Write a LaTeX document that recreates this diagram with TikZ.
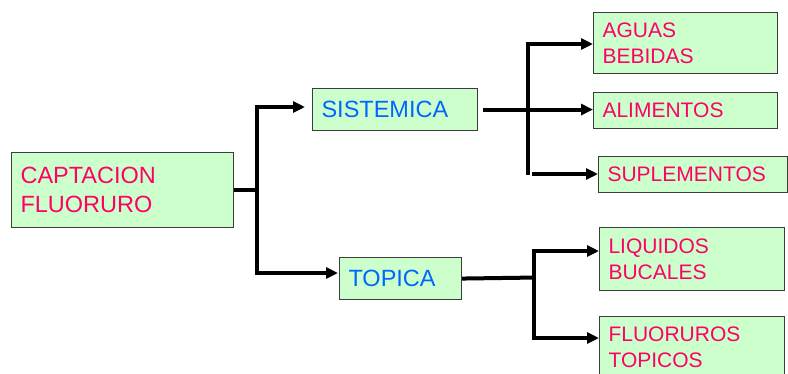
\documentclass[tikz,border=0pt]{standalone}
\usepackage{fontspec}
\setmainfont{Liberation Sans}
\usetikzlibrary{arrows.meta}
\definecolor{boxgreen}{HTML}{CCFFCC}
\definecolor{pinktext}{HTML}{FF0066}
\definecolor{bluetext}{HTML}{0066FF}
\definecolor{edgegray}{HTML}{3C3C3C}
\tikzset{
  box/.style={draw=edgegray, fill=boxgreen, line width=1.1pt, anchor=north west,
    inner xsep=9pt, inner ysep=0pt, align=left},
  bigtext/.style={font=\fontsize{23.5}{29}\selectfont},
  smalltext/.style={font=\fontsize{21}{26}\selectfont, text=pinktext},
  wire/.style={line width=4pt},
  arw/.style={line width=4pt, -{Triangle[length=12pt,width=11pt]}},
}
\begin{document}
\begin{tikzpicture}[x=1pt,y=-1pt]
\useasboundingbox (0,0) rectangle (788,373);
\clip (0,0) rectangle (788,373);

% boxes
\node[box, bigtext, text=pinktext, text width=204pt, minimum height=75pt] (cap) at (11,152) {CAPTACION\\FLUORURO};
\node[box, bigtext, text=bluetext, text width=147pt, minimum height=42pt] (sis) at (312,88) {SISTEMICA};
\node[box, bigtext, text=bluetext, text width=104pt, minimum height=42pt] (top) at (339,257) {TOPICA};
\node[box, smalltext, text width=166pt, minimum height=61pt] (agu) at (593,12) {AGUAS\\BEBIDAS};
\node[box, smalltext, text width=166pt, minimum height=36pt] (ali) at (593,92) {ALIMENTOS};
\node[box, smalltext, text width=171pt, minimum height=36pt] (sup) at (598,156) {SUPLEMENTOS};
\node[box, smalltext, text width=167pt, minimum height=63pt] (liq) at (599,227) {LIQUIDOS\\BUCALES};
\node[box, smalltext, text width=167pt, minimum height=61pt] (flu) at (599,316) {FLUORUROS\\TOPICOS};

% junction points of the branching lines
\coordinate (b1t) at (257,107);
\coordinate (b1b) at (257,273);
\coordinate (b2t) at (528,44);
\coordinate (b2b) at (528,175);
\coordinate (b2s) at (532,174);
\coordinate (b3t) at (534,251);
\coordinate (b3b) at (534,338);

% first level
\draw[wire] (cap.east) -- (cap.east -| b1t);
\draw[arw, shorten >=7pt] (b1b) -- (b1t) -- (b1t -| sis.west);
\draw[arw, shorten >=1pt] (b1t) -- (b1b) -- (b1b -| top.west);

% systemic branch
\draw[arw] ([xshift=5pt]sis.east) -- (sis.east -| ali.west);
\draw[arw] (b2b) -- (b2t) -- (b2t -| agu.west);
\draw[arw] (b2s) -- (b2s -| sup.west);

% topical branch
\draw[wire] (top.east) -- ([yshift=1pt]top.east -| b3t);
\draw[arw] (b3b) -- (b3t) -- (b3t -| liq.west);
\draw[arw] (b3t) -- (b3b) -- (b3b -| flu.west);
\end{tikzpicture}
\end{document}
